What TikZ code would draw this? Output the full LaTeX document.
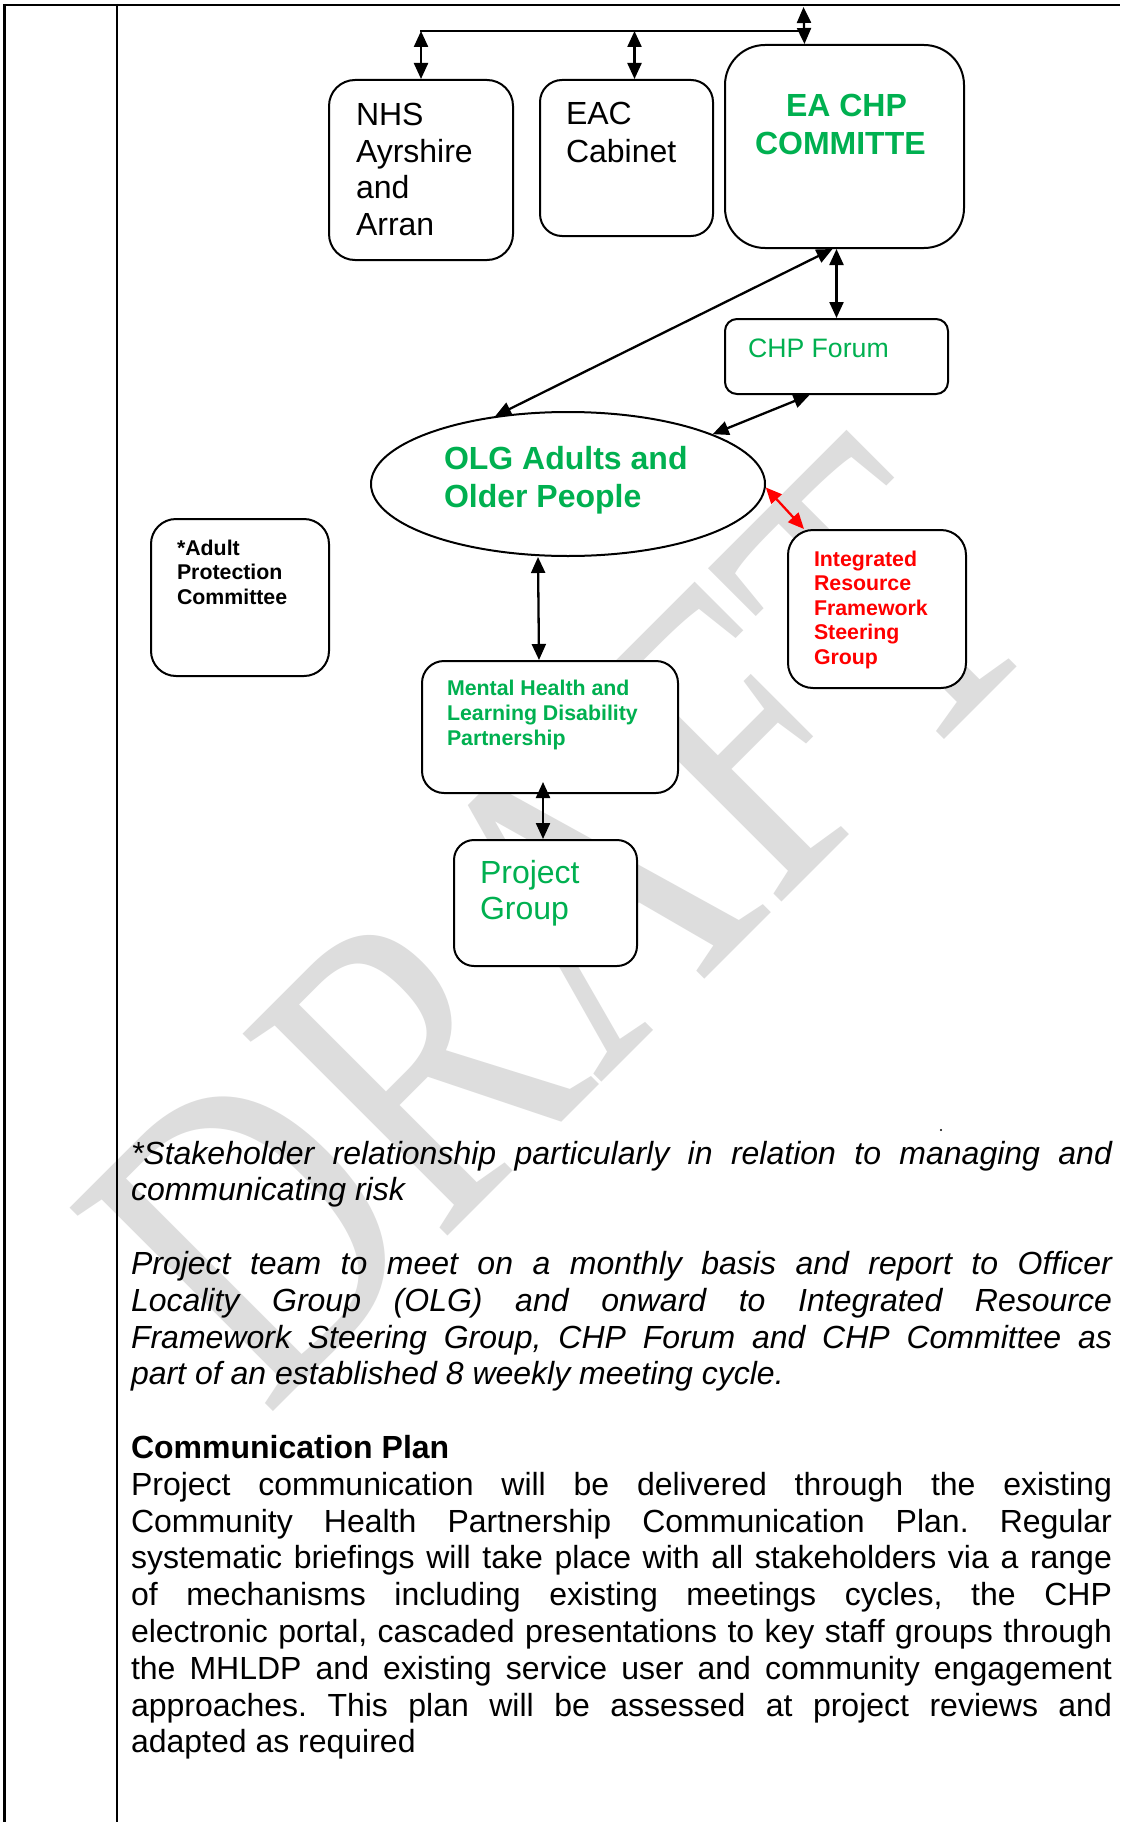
\documentclass[tikz,border=0pt]{standalone}
\usepackage{fontspec}
\setmainfont{Liberation Sans}
\newfontfamily\wmfont{Liberation Serif}
\usetikzlibrary{arrows.meta,shapes.geometric}
\definecolor{cgreen}{RGB}{0,176,80}
\definecolor{cred}{RGB}{255,0,0}
\definecolor{wmgray}{RGB}{221,221,221}
\frenchspacing
\newcommand\jline[1]{\hbox to 981pt{#1}}
\newcommand\fbig{\fontsize{32}{36.8}\selectfont}
\newcommand\fmid{\fontsize{26.67}{30.7}\selectfont}
\newcommand\fsmall{\fontsize{21.33}{24.5}\selectfont}
\begin{document}
\begin{tikzpicture}[x=1pt,y=-1pt,
  box/.style={draw=black, line width=2pt, fill=white, rectangle, inner sep=0pt, anchor=north west},
  lbl/.style={anchor=base west, inner sep=0pt, outer sep=0pt},
  conn/.style={line width=2.3pt, {Triangle[length=16pt,width=14pt]}-{Triangle[length=16pt,width=14pt]}},
  rule/.style={line width=2.2pt, black}
]
\useasboundingbox (0,0) rectangle (1120,1822);
\fill[white] (0,0) rectangle (1120,1822);

% watermark
\node[anchor=base west, inner sep=0pt, outer sep=0pt, rotate=45, text=wmgray] (wm) at (266,1418)
  {\scalebox{1}[1.292]{\wmfont\fontsize{340}{340}\selectfont DRAFT}};

% table rules
\draw[rule] (3,5) -- (1120,5);
\draw[rule] (4.5,4) -- (4.5,1822);
\draw[rule] (117,4) -- (117,1822);

% boxes
\node[box, rounded corners=26pt, minimum width=184pt, minimum height=180pt] (nhs) at (328,79) {};
\node[box, rounded corners=22pt, minimum width=173pt, minimum height=156pt] (eac) at (539,79) {};
\node[box, rounded corners=40pt, minimum width=239pt, minimum height=203pt] (ea) at (724,44) {};
\node[box, rounded corners=12pt, minimum width=223pt, minimum height=75pt] (chp) at (724,318) {};
\node[draw=black, line width=2pt, fill=white, ellipse, inner sep=0pt, minimum width=394pt, minimum height=144pt] (ol) at (568,484) {};
\node[box, rounded corners=25pt, minimum width=178pt, minimum height=158pt] (ig) at (787,529) {};
\node[box, rounded corners=25pt, minimum width=178pt, minimum height=157pt] (ap) at (150,518) {};
\node[box, rounded corners=22pt, minimum width=256pt, minimum height=132pt] (mh) at (421,660) {};
\node[box, rounded corners=20pt, minimum width=183pt, minimum height=126pt] (pg) at (453,839) {};

% connectors
\coordinate (topL) at (420,31);
\coordinate (eacx) at ([xshift=8pt]eac.north);
\coordinate (eax) at ([xshift=-40pt]ea.north);
\coordinate (edgeTop) at (803.5,7);
\draw[line width=2.3pt] (topL) -- (eax |- topL);
\draw[conn] (nhs.north |- topL) -- (nhs.north);
\draw[conn] (eacx |- topL) -- (eacx);
\draw[conn] (edgeTop) -- (eax);
\draw[conn] ([xshift=-8pt]ea.south) -- (chp.north);
\draw[conn] ([xshift=-12pt]ea.south) -- (ol.137);
\draw[conn] ([xshift=-27pt]chp.south) -- (ol.19);
\draw[conn, color=cred] (ol.-1) -- ([xshift=17pt]ig.north west);
\draw[conn] ([xshift=-30pt]ol.south) -- ([xshift=-11pt]mh.north);
\draw[conn] ([xshift=-7pt,yshift=12pt]mh.south) -- ([xshift=-2.5pt]pg.north);

% box labels
\node[lbl] (tnhs) at (356,126) {\vtop{\fontsize{32}{36.5}\selectfont\hbox{NHS}\hbox{Ayrshire}\hbox{and}\hbox{Arran}}};
\node[lbl] (teac) at (566,125) {\vtop{\fontsize{32}{37.5}\selectfont\hbox{EAC}\hbox{Cabinet}}};
\node[lbl, text=cgreen] (tea) at (755,117) {\vtop{\fontsize{32}{38}\selectfont\bfseries\hbox{\kern31pt EA CHP}\hbox{COMMITTE}}};
\node[lbl, text=cgreen] (tchp) at (748,357) {\fmid CHP Forum};
\node[lbl, text=cgreen] (tol) at (444,469) {\vtop{\fontsize{32}{38}\selectfont\bfseries\hbox{OLG Adults and}\hbox{Older People}}};
\node[lbl, text=cred] (tig) at (814,566) {\vtop{\fsmall\bfseries\hbox{Integrated}\hbox{Resource}\hbox{Framework}\hbox{Steering}\hbox{Group}}};
\node[lbl] (tap) at (177,555) {\vtop{\fsmall\bfseries\hbox{*Adult}\hbox{Protection}\hbox{Committee}}};
\node[lbl, text=cgreen] (tmh) at (447,695) {\vtop{\fontsize{21.33}{25}\selectfont\bfseries\hbox{Mental Health and}\hbox{Learning Disability}\hbox{Partnership}}};
\node[lbl, text=cgreen] (tpg) at (480,883) {\vtop{\fontsize{32}{36}\selectfont\hbox{Project}\hbox{Group}}};

% body text
\node[circle, fill=black, inner sep=0pt, minimum size=2.2pt] (dot) at (941,1130) {};
\node[lbl] (p1) at (131,1164) {\vtop{\fbig\itshape
  \jline{*Stakeholder relationship particularly in relation to managing and}
  \hbox{communicating risk}}};
\node[lbl] (p2) at (131,1274.4) {\vtop{\fbig\itshape
  \jline{Project team to meet on a monthly basis and report to Officer}
  \jline{Locality Group (OLG) and onward to Integrated Resource}
  \jline{Framework Steering Group, CHP Forum and CHP Committee as}
  \hbox{part of an established 8 weekly meeting cycle.}}};
\node[lbl] (cph) at (131,1458.4) {\fbig\bfseries Communication Plan};
\node[lbl] (p3) at (131,1495.2) {\vtop{\fbig
  \jline{Project communication will be delivered through the existing}
  \jline{Community Health Partnership Communication Plan. Regular}
  \jline{systematic briefings will take place with all stakeholders via a range}
  \jline{of mechanisms including existing meetings cycles, the CHP}
  \jline{electronic portal, cascaded presentations to key staff groups through}
  \jline{the MHLDP and existing service user and community engagement}
  \jline{approaches. This plan will be assessed at project reviews and}
  \hbox{adapted as required}}};
\end{tikzpicture}
\end{document}
